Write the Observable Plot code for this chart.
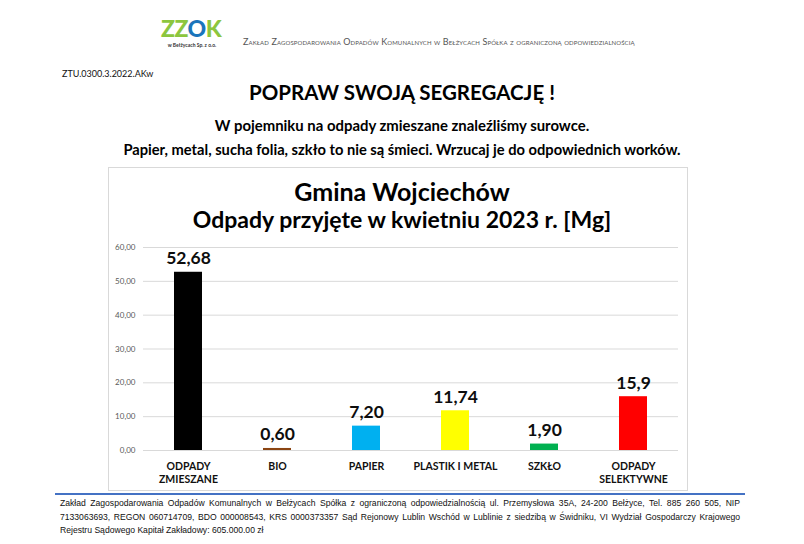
<!DOCTYPE html>
<html><head><meta charset="utf-8">
<script src="https://cdn.jsdelivr.net/npm/d3@7"></script>
<script src="https://cdn.jsdelivr.net/npm/@observablehq/plot@0.6"></script>
<style>
body{margin:0;background:#fff;width:804px;height:544px;position:relative;overflow:hidden;font-family:Lato,"Open Sans",sans-serif;color:#000}
.abs{position:absolute;white-space:nowrap}
.center{left:0;width:804px;text-align:center}
#logo{left:161px;top:17px;font-weight:900;font-size:23px;letter-spacing:-0.5px;color:#8cc63e;line-height:22px;height:22px}
#logo .o{color:#1b75bb}
#logosub{left:161px;top:42px;font-size:5px;line-height:6px;font-weight:bold;color:#333;width:62px;text-align:center}
#company{left:243px;top:36px;font-size:9px;letter-spacing:0.12px;font-variant:small-caps;color:#555}
#ref{left:62px;top:68px;font-size:9px;color:#111}
#h1{top:80px;font-size:20.5px;font-weight:bold}
#h2{top:116px;font-size:14.9px;font-weight:bold}
#h3{top:140px;font-size:14.7px;font-weight:bold}
#frame{left:108px;top:167px;width:580px;height:324px;border:1px solid #d9d9d9;box-sizing:border-box}
#t1{top:176px;font-size:25px;font-weight:bold}
#t2{top:205px;font-size:23px;font-weight:bold}
#chart{left:108px;top:235px}
#rule{left:55px;top:493px;width:690px;height:0;border-top:2px solid #4472c4}
#footer{left:60px;top:497px;width:680px;font-family:"Liberation Sans",Arial,sans-serif;font-size:8.6px;line-height:13.5px;color:#111}
#footer div{text-align:justify;text-align-last:justify;white-space:nowrap}
#footer div.last{text-align-last:left}
</style></head><body>
<div id="logo" class="abs">ZZ<span class="o">O</span>K</div>
<div id="logosub" class="abs">w Bełżycach Sp. z o.o.</div>
<div id="company" class="abs">Zakład Zagospodarowania Odpadów Komunalnych w Bełżycach Spółka z ograniczoną odpowiedzialnością</div>
<div id="ref" class="abs">ZTU.0300.3.2022.AKw</div>
<div id="h1" class="abs center">POPRAW SWOJĄ SEGREGACJĘ !</div>
<div id="h2" class="abs center">W pojemniku na odpady zmieszane znaleźliśmy surowce.</div>
<div id="h3" class="abs center">Papier, metal, sucha folia, szkło to nie są śmieci. Wrzucaj je do odpowiednich worków.</div>
<div id="frame" class="abs"></div>
<div id="t1" class="abs center">Gmina Wojciechów</div>
<div id="t2" class="abs center">Odpady przyjęte w kwietniu 2023 r. [Mg]</div>
<div id="chart" class="abs"></div>
<div id="rule" class="abs"></div>
<div id="footer" class="abs">
<div>Zakład Zagospodarowania Odpadów Komunalnych w Bełżycach Spółka z ograniczoną odpowiedzialnością ul. Przemysłowa 35A, 24-200 Bełżyce, Tel. 885 260 505, NIP</div>
<div>7133063693, REGON 060714709, BDO 000008543, KRS 0000373357 Sąd Rejonowy Lublin Wschód w Lublinie z siedzibą w Świdniku, VI Wydział Gospodarczy Krajowego</div>
<div class="last">Rejestru Sądowego Kapitał Zakładowy: 605.000.00 zł</div>
</div>
<script>
const categories = ["ODPADY ZMIESZANE","BIO","PAPIER","PLASTIK I METAL","SZKŁO","ODPADY SELEKTYWNE"];
const categoryLabels = ["ODPADY\nZMIESZANE","BIO","PAPIER","PLASTIK I METAL","SZKŁO","ODPADY\nSELEKTYWNE"];
const values = [52.68, 0.60, 7.20, 11.74, 1.90, 15.9];
const valueLabels = ["52,68","0,60","7,20","11,74","1,90","15,9"];
const colors = ["#000000","#8b4513","#00b0f0","#ffff00","#00b050","#ff0000"];
const yTicks = [0,10,20,30,40,50,60];

const data = categories.map((c,i)=>({cat:c, value:values[i], label:valueLabels[i]}));

const chart = Plot.plot({
  width: 580, height: 255,
  marginTop: 12, marginBottom: 40, marginLeft: 35, marginRight: 10,
  style: {fontFamily: "Lato, sans-serif", background: "transparent", overflow: "visible"},
  x: {domain: categories, paddingInner: 0.685, paddingOuter: 0.3425, axis: null},
  y: {domain: [0,60], axis: null},
  color: {domain: categories, range: colors},
  marks: [
    Plot.gridY(yTicks, {stroke: "#d9d9d9", strokeOpacity: 1, strokeWidth: 1}),
    Plot.axisY(yTicks, {tickSize: 0, tickPadding: 8, fontSize: 8, fill: "#595959",
      tickFormat: d => d.toFixed(2).replace(".", ","), label: null}),
    Plot.axisX({tickSize: 0, tickPadding: 11, fontSize: 10.5, fontWeight: "bold", fill: "#111",
      lineHeight: 1.2, label: null,
      tickFormat: d => categoryLabels[categories.indexOf(d)]}),
    Plot.barY(data, {x: "cat", y: "value", fill: "cat"}),
    Plot.text(data, {x: "cat", y: "value", text: "label", dy: -8, lineAnchor: "bottom",
      fontSize: 17.5, fontWeight: "bold", fill: "#0d0d0d"})
  ]
});
document.getElementById("chart").appendChild(chart);
</script>
</body></html>
